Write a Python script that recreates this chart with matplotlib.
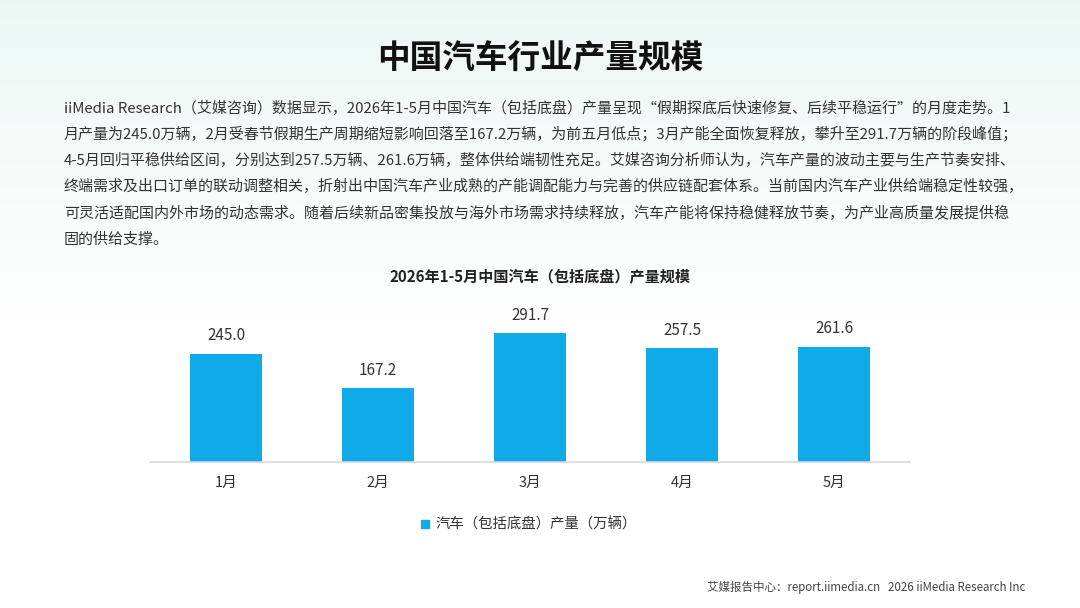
import numpy as np
import matplotlib
matplotlib.use('Agg')
import matplotlib.pyplot as plt

plt.rcParams['font.family'] = ['Noto Sans CJK SC', 'DejaVu Sans']

# data
months = ['1月', '2月', '3月', '4月', '5月']
output = [245.0, 167.2, 291.7, 257.5, 261.6]
series_name = '汽车（包括底盘）产量（万辆）'

title = '中国汽车行业产量规模'
chart_title = '2026年1-5月中国汽车（包括底盘）产量规模'
paragraph = [
    'iiMedia Research（艾媒咨询）数据显示，2026年1-5月中国汽车（包括底盘）产量呈现“假期探底后快速修复、后续平稳运行”的月度走势。1',
    '月产量为245.0万辆，2月受春节假期生产周期缩短影响回落至167.2万辆，为前五月低点；3月产能全面恢复释放，攀升至291.7万辆的阶段峰值；',
    '4-5月回归平稳供给区间，分别达到257.5万辆、261.6万辆，整体供给端韧性充足。艾媒咨询分析师认为，汽车产量的波动主要与生产节奏安排、',
    '终端需求及出口订单的联动调整相关，折射出中国汽车产业成熟的产能调配能力与完善的供应链配套体系。当前国内汽车产业供给端稳定性较强，',
    '可灵活适配国内外市场的动态需求。随着后续新品密集投放与海外市场需求持续释放，汽车产能将保持稳健释放节奏，为产业高质量发展提供稳',
    '固的供给支撑。',
]
footer = '艾媒报告中心：report.iimedia.cn   2026 iiMedia Research Inc'

W, H = 1080, 608
bar_color = '#10AAE9'
text_color = '#333333'

fig = plt.figure(figsize=(W / 100, H / 100), dpi=100)


def fx(px):
    return px / W


def fy(py):
    return 1 - py / H


# background: soft mint gradient fading to white
bg = fig.add_axes([0, 0, 1, 1], zorder=-10)
grad = np.ones((H, 1, 3))
t = np.clip(np.arange(H) / 320.0, 0, 1)[:, None]
top = np.array([0.925, 0.968, 0.958])
grad[:, 0, :] = top * (1 - t) + np.array([1.0, 1.0, 1.0]) * t
bg.imshow(grad, aspect='auto', extent=[0, 1, 0, 1])
bg.axis('off')

# headline text
fig.text(0.5, fy(59), title, ha='center', va='center', fontsize=23.5,
         fontweight='bold', color='#111111')
for i, line in enumerate(paragraph):
    fig.text(fx(64), fy(108 + 26.3 * i), line, ha='left', va='center',
             fontsize=10.8, color=text_color)
fig.text(0.5, fy(277), chart_title, ha='center', va='center', fontsize=10.9,
         fontweight='bold', color='#222222')

# bar chart
ax = fig.add_axes([fx(150), 146 / H, 760 / W, 132.3 / H])
x = np.arange(len(months))
bars = ax.bar(x, output, width=0.47, color=bar_color, zorder=2)
ax.set_xlim(-0.5, len(months) - 0.5)
ax.set_ylim(0, 300)
for xi, v in zip(x, output):
    ax.annotate(f'{v:.1f}', (xi, v), xytext=(0, 13), textcoords='offset points',
                ha='center', va='center', fontsize=11, color=text_color,
                annotation_clip=False)
ax.set_xticks(x)
ax.set_xticklabels(months, fontsize=10.5, color=text_color)
ax.tick_params(axis='x', length=0, pad=10)
ax.set_yticks([])
for s in ['top', 'left', 'right']:
    ax.spines[s].set_visible(False)
ax.spines['bottom'].set_color('#d9d9d9')
ax.spines['bottom'].set_linewidth(1.2)
ax.patch.set_alpha(0)

# legend
fig.patches.append(plt.Rectangle((fx(421), fy(528)), 8 / W, 8 / H,
                                 transform=fig.transFigure, color=bar_color))
fig.text(fx(435), fy(524), series_name, ha='left', va='center',
         fontsize=10.4, color=text_color)

# footer
fig.text(fx(1025), fy(587), footer, ha='right', va='center', fontsize=8.3,
         color='#444444')

fig.savefig('out.png', dpi=100)
